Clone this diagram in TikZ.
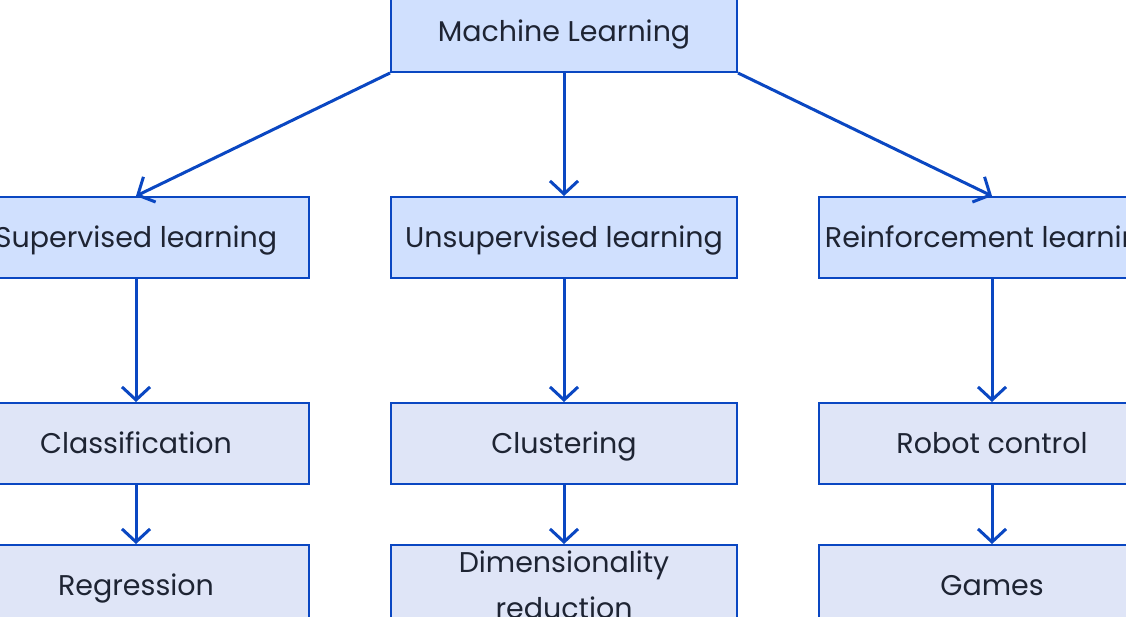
\documentclass[tikz,border=0pt]{standalone}
\usepackage{fontspec}
\setmainfont{Poppins}
\usetikzlibrary{arrows.meta}
\definecolor{mlblue}{HTML}{0A47C2}
\definecolor{mlfill}{HTML}{D0E0FE}
\definecolor{mlpale}{HTML}{DFE5F7}
\definecolor{mltext}{HTML}{1E2433}
\tikzset{
  mlbox/.style={draw=mlblue, line width=2pt, fill=mlfill, text=mltext,
    minimum width=346pt, minimum height=81pt, inner sep=0pt,
    text height=20pt, text depth=0pt,
    font=\fontsize{28.5}{46}\selectfont, align=center},
  mlleaf/.style={mlbox, fill=mlpale},
  mlarrow/.style={draw=mlblue, line width=3pt,
    -{Straight Barb[length=13pt,width=28pt,line width=3pt]}}
}
\begin{document}
\begin{tikzpicture}[x=1pt,y=-1pt]
\useasboundingbox (0,0) rectangle (1126,617);
\node[mlbox] (ml) at (564,31.5) {Machine Learning};

\node[mlbox] (sup) at (136,237.5) {Supervised learning};
\node[mlbox] (unsup) at (564,237.5) {Unsupervised learning};
\node[mlbox] (rein) at (992,237.5) {Reinforcement learning};

\node[mlleaf] (clas) at (136,443.5) {Classification};
\node[mlleaf] (clus) at (564,443.5) {Clustering};
\node[mlleaf] (robot) at (992,443.5) {Robot control};

\node[mlleaf] (regr) at (136,585.5) {Regression};
\node[mlleaf, text height=66pt] (dimred) at (564,585.5) {Dimensionality\\reduction};
\node[mlleaf] (games) at (992,585.5) {Games};

\draw[mlarrow] (ml.south west) -- (sup.north);
\draw[mlarrow] (ml) -- (unsup);
\draw[mlarrow] (ml.south east) -- (rein.north);
\draw[mlarrow] (sup) -- (clas);
\draw[mlarrow] (unsup) -- (clus);
\draw[mlarrow] (rein) -- (robot);
\draw[mlarrow] (clas) -- (regr);
\draw[mlarrow] (clus) -- (dimred);
\draw[mlarrow] (robot) -- (games);
\end{tikzpicture}
\end{document}
